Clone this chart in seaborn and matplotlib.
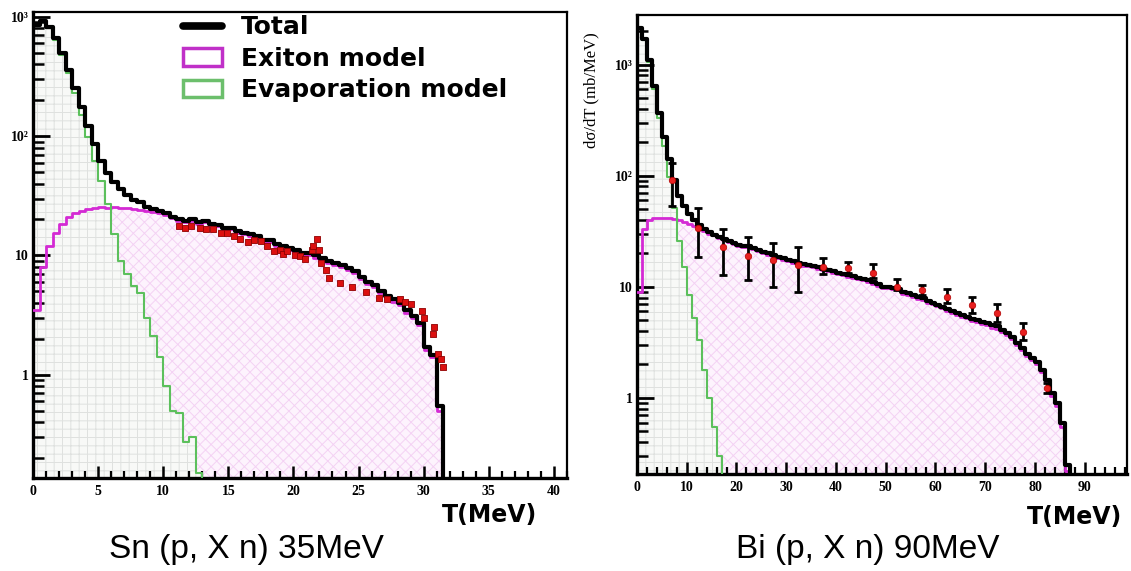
import numpy as np
import pandas as pd
import matplotlib
matplotlib.use('Agg')
from matplotlib import pyplot as plt
from matplotlib.lines import Line2D
from matplotlib.patches import Patch
from matplotlib.ticker import MultipleLocator, NullFormatter
import seaborn as sns

sns.set_style('ticks')
plt.rcParams.update({'hatch.linewidth': 0.7, 'text.color': 'black',
                     'axes.edgecolor': 'black', 'axes.labelcolor': 'black',
                     'xtick.color': 'black', 'ytick.color': 'black'})

# Sn (p, X n) 35 MeV -- 0.5 MeV bins
sn_edges = np.arange(0, 32.01, 0.5)
sn_total = [860, 920, 830, 660, 500, 360, 255, 175, 122, 86,
            62, 49, 41, 36, 32, 29, 28, 25.5, 24.5, 23.5,
            22.5, 21, 20, 19.5, 20, 19, 19.5, 18.5, 18, 17,
            17, 16, 15.5, 15, 14.5, 13.5, 13.5, 12.5, 12, 11.5,
            11, 10.5, 10.5, 10, 9.5, 9, 8.7, 8.3, 7.8, 7.4,
            6.6, 6.0, 5.6, 5.0, 4.6, 4.3, 4.0, 3.5, 3.1, 2.7,
            1.7, 1.45, 0.55, 0]
sn_exciton = [3.5, 8, 12, 15.5, 18.5, 21, 22.5, 23.5, 24.5, 25,
              25.5, 25, 25.5, 25, 25, 24.5, 24, 23.5, 23, 22.5,
              22, 20.5, 19.5, 19, 19.5, 18.5, 19, 18, 17.5, 16.5,
              16.5, 15.5, 15, 14.5, 14, 13, 13, 12, 11.5, 11,
              10.5, 10, 10, 9.5, 9, 8.6, 8.3, 8, 7.5, 7.1,
              6.3, 5.8, 5.4, 4.8, 4.4, 4.1, 3.8, 3.3, 3.0, 2.6,
              1.6, 1.4, 0.5, 0]
sn_evap = [850, 910, 815, 645, 480, 340, 232, 150, 98, 62,
           42, 27, 15, 9, 7, 5.5, 4.8, 3.0, 2.1, 1.4,
           0.8, 0.5, 0.48, 0.27, 0.3, 0.15] + [0] * 38
sn_pt_x = [11.2, 11.7, 12.1, 12.8, 13.3, 13.8, 14.4, 14.9, 15.4, 15.9,
           16.5, 17.0, 17.5, 18.0, 18.5, 19.0, 19.2, 19.5, 20.1, 20.5,
           20.9, 21.4, 21.5, 21.8, 22.0, 22.1, 22.5, 22.7, 23.6, 24.5,
           25.6, 26.6, 27.2, 28.2, 28.6, 29.0, 29.9, 30.0, 30.7, 30.8,
           31.1, 31.3, 31.5]
sn_pt_y = [17.5, 17.0, 17.5, 17, 16.5, 16.5, 15.5, 15.5, 14.5, 13.6,
           13, 13.5, 13.2, 12, 10.8, 11, 10.2, 10.8, 10, 9.8,
           9.3, 11.2, 11.9, 13.6, 11.2, 8.7, 7.6, 6.5, 5.9, 5.4,
           4.9, 4.4, 4.3, 4.3, 4.1, 3.9, 3.4, 3.0, 2.2, 2.5,
           1.5, 1.34, 1.15]

# Bi (p, X n) 90 MeV -- 1 MeV bins
bi_edges = np.arange(0, 88.01, 1.0)
bi_total = [2150, 1700, 1100, 640, 370, 225, 140, 92, 65, 53,
            45, 40, 36, 33, 31, 29.5, 28, 27, 26, 25,
            24, 23.5, 23.5, 22.5, 21.5, 20.5, 20, 19.5, 18.5, 18,
            17.5, 17, 16.5, 16, 15.8, 15.4, 15, 14.6, 14.2, 13.8,
            13.4, 13.1, 12.7, 12.4, 12.1, 11.8, 11.4, 11.1, 10.5, 10.0,
            10.0, 9.8, 9.6, 9.0, 8.8, 8.4, 8.1, 7.9, 7.5, 7.2,
            6.9, 6.6, 6.3, 6.0, 5.8, 5.6, 5.4, 5.1, 5.0, 4.8,
            4.7, 4.5, 4.4, 4.1, 3.85, 3.5, 3.1, 2.8, 2.5, 2.3,
            2.1, 1.8, 1.45, 1.1, 0.9, 0.6, 0.25, 0]
bi_exciton = [9, 33, 40, 42, 42, 42, 42, 41, 40, 38.5,
              37, 35, 33, 31.5, 30, 29, 27.5, 26.5, 25.5, 24.5,
              23.5, 23, 23, 22, 21, 20, 19.5, 19, 18, 17.5,
              17, 16.5, 16, 15.5, 15.4, 15, 14.6, 14.2, 13.8, 13.4,
              13, 12.7, 12.3, 12, 11.7, 11.4, 11, 10.7, 10.2, 9.7,
              9.7, 9.5, 9.3, 8.7, 8.5, 8.1, 7.8, 7.6, 7.2, 7.0,
              6.7, 6.4, 6.1, 5.8, 5.6, 5.4, 5.2, 4.9, 4.8, 4.6,
              4.5, 4.3, 4.2, 3.9, 3.7, 3.4, 3.0, 2.7, 2.4, 2.2,
              2.0, 1.7, 1.4, 1.05, 0.85, 0.55, 0.22, 0]
bi_evap = [2140, 1670, 1060, 600, 330, 185, 98, 51, 26, 15,
           8.5, 5.2, 3.3, 1.8, 1.0, 0.55, 0.3] + [0] * 71
bi_pt_x = [7.0, 12.3, 17.3, 22.3, 27.3, 32.3, 37.4, 42.4, 47.4, 52.3,
           57.3, 62.4, 67.4, 72.4, 77.5, 82.5]
bi_pt_y = [92, 34, 22.9, 19, 17.5, 15.8, 15, 14.8, 13.4, 10,
           9.4, 8.1, 6.9, 5.8, 3.9, 1.23]
bi_pt_lo = [53, 18.6, 12.8, 11.6, 10, 9.0, 13, 13.4, 12, 9.4,
            8.5, 7.2, 5.8, 4.8, 3.3, 1.1]
bi_pt_hi = [131, 51.5, 33, 28, 24.8, 23, 18.3, 16.8, 16.2, 11.7,
            10.4, 9.6, 8.1, 7.0, 4.7, 1.37]

MAGENTA = '#d42ad4'
GREEN = '#5cc05c'
SERIF = 'Liberation Serif'


def hist_line(ax, edges, values, color, lw, z):
    df = pd.DataFrame({'E': (edges[:-1] + edges[1:]) / 2, 'w': values})
    sns.histplot(data=df, x='E', weights='w', bins=list(edges), element='step',
                 fill=False, color=color, linewidth=lw, ax=ax, zorder=z)


def hist_fill(ax, edges, values, face, hatch_col, hatch, z):
    ax.stairs(values, edges, fill=True, baseline=1e-4, facecolor=face,
              edgecolor=hatch_col, linewidth=0, hatch=hatch, zorder=z)


def style_axis(ax, xmax, xmajor, xminor, ylim):
    ax.set_axisbelow(False)
    ax.set_yscale('log')
    ax.set_xlim(0, xmax)
    ax.set_ylim(*ylim)
    ax.set_xticks(np.arange(0, xmax, xmajor))
    ax.xaxis.set_minor_locator(MultipleLocator(xminor))
    ax.set_yticks([1, 10, 100, 1000], ['1', '10', '10²', '10³'])
    ax.yaxis.set_minor_formatter(NullFormatter())
    ax.tick_params(which='major', axis='y', direction='in', length=12, width=2, pad=3)
    ax.tick_params(which='minor', axis='y', direction='in', length=8, width=1.8)
    ax.tick_params(which='major', axis='x', direction='in', length=9, width=1.8, pad=5)
    ax.tick_params(which='minor', axis='x', direction='in', length=5, width=1.6)
    ax.tick_params(top=False, right=False, which='both')
    for lab in ax.get_xticklabels() + ax.get_yticklabels():
        lab.set_fontfamily(SERIF)
        lab.set_fontweight('bold')
        lab.set_fontsize(10)
    for side in ['left', 'bottom']:
        ax.spines[side].set_linewidth(2.4)
    for side in ['top', 'right']:
        ax.spines[side].set_linewidth(1.6)
    ax.set_xlabel('')
    ax.set_ylabel('')


fig = plt.figure(figsize=(11.31, 5.71), dpi=100)
ax1 = fig.add_axes([0.0292, 0.163, 0.472, 0.816])
ax2 = fig.add_axes([0.5632, 0.170, 0.4333, 0.804])

for ax, edges, tot, exc, eva in [(ax1, sn_edges, sn_total, sn_exciton, sn_evap),
                                 (ax2, bi_edges, bi_total, bi_exciton, bi_evap)]:
    hist_fill(ax, edges, exc, '#fdf3fd', '#f4d2f4', 'xxx', 1)
    hist_fill(ax, edges, eva, '#f8f9f7', '#dfe1df', '++', 2)
    hist_line(ax, edges, exc, MAGENTA, 2, 3)
    hist_line(ax, edges, eva, GREEN, 1.5, 4)
    hist_line(ax, edges, tot, 'black', 3.0, 5)

sns.scatterplot(x=sn_pt_x, y=sn_pt_y, marker='s', s=22, color='#dc1010',
                edgecolor='#900000', linewidth=0.6, ax=ax1, zorder=6)

yerr = [np.array(bi_pt_y) - np.array(bi_pt_lo), np.array(bi_pt_hi) - np.array(bi_pt_y)]
ax2.errorbar(bi_pt_x, bi_pt_y, yerr=yerr, fmt='none', ecolor='black',
             elinewidth=2, capsize=3, capthick=2, zorder=6)
sns.scatterplot(x=bi_pt_x, y=bi_pt_y, marker='o', s=22, color='#e82020',
                edgecolor='#b00000', linewidth=0.5, ax=ax2, zorder=7)

style_axis(ax1, 41, 5, 1, (0.136, 1100))
style_axis(ax2, 98.5, 10, 2, (0.207, 2800))

ax2.set_ylabel('dσ/dT (mb/MeV)', fontfamily=SERIF, fontsize=12)
ax2.yaxis.set_label_coords(-0.076, 0.836)

handles = [Line2D([], [], color='black', lw=5.5),
           Patch(facecolor='white', edgecolor='#c030c8', lw=2.5),
           Patch(facecolor='white', edgecolor='#6cbf6c', lw=2.5)]
ax1.legend(handles, ['Total', 'Exiton model', 'Evaporation model'],
           loc='upper left', bbox_to_anchor=(0.281, 0.993), frameon=False,
           borderpad=0, borderaxespad=0, handlelength=1.55, handleheight=0.7,
           handletextpad=0.75, labelspacing=0.3,
           prop={'family': 'DejaVu Sans', 'weight': 'bold', 'size': 18})

fig.text(0.433, 0.098, 'T(MeV)', ha='center', va='center',
         fontfamily='DejaVu Sans', fontweight='bold', fontsize=17)
fig.text(0.950, 0.095, 'T(MeV)', ha='center', va='center',
         fontfamily='DejaVu Sans', fontweight='bold', fontsize=17)
fig.text(0.218, 0.037, 'Sn (p, X n) 35MeV', ha='center', va='center',
         fontfamily=['Liberation Sans Narrow', 'Liberation Sans'], fontsize=24)
fig.text(0.767, 0.037, 'Bi (p, X n) 90MeV', ha='center', va='center',
         fontfamily=['Liberation Sans Narrow', 'Liberation Sans'], fontsize=24)

fig.savefig('out.png', dpi=100)
